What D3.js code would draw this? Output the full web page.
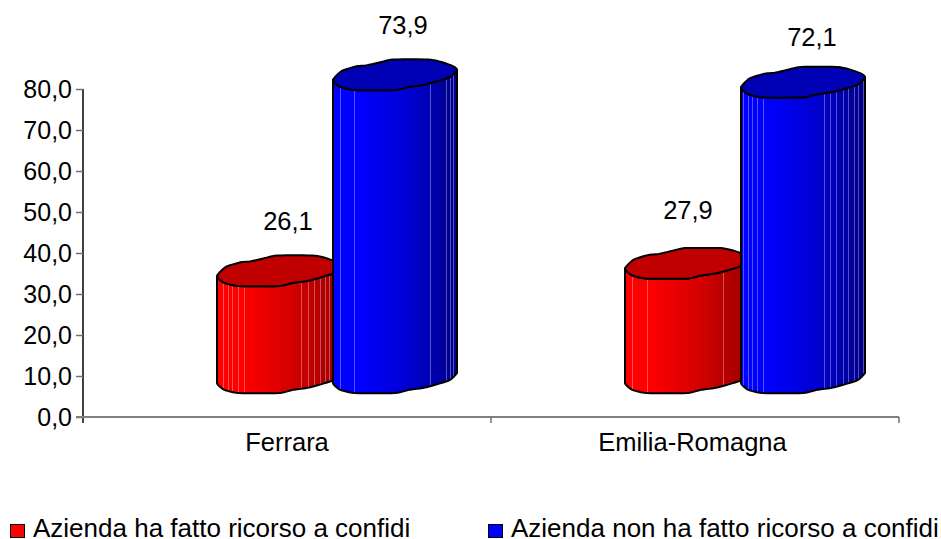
<!DOCTYPE html>
<html>
<head>
<meta charset="utf-8">
<script src="https://cdn.jsdelivr.net/npm/d3@7"></script>
<style>
  html, body { margin: 0; padding: 0; background: #fff; }
  svg { display: block; }
  text { font-family: "Liberation Sans", Arial, sans-serif; fill: #000; }
</style>
</head>
<body>
<svg id="chart" width="941" height="539"></svg>
<script>
const categories = ["Ferrara", "Emilia-Romagna"];
const seriesNames = ["Azienda ha fatto ricorso a confidi", "Azienda non ha fatto ricorso a confidi"];
const confidiYes = [26.1, 27.9];
const confidiNo = [73.9, 72.1];
const yTicks = [0, 10, 20, 30, 40, 50, 60, 70, 80];
const seriesValues = [confidiYes, confidiNo];

// Cross-section of the cylinders, in units of the rim radii, clockwise from the left tip.
const rimUpper = [[-1, .32], [-.86, -.26], [-.62, -.56], [-.46, -.62], [-.24, -.82], [-.03, -1], [.54, -1], [.75, -.84], [.94, -.56], [1, -.33]];
const rimLower = [[.89, .12], [.7, .38], [.48, .62], [.21, .78], [0, .97], [-.65, .97], [-.89, .75]];
const rim = rimUpper.concat(rimLower);
const rightTipIndex = rimUpper.length - 1;

// Light facet seams on each cylinder side, as a fraction of its width.
const seams = [
  [[.05, .09, .12, .17, .22, .68, .73, .78, .83, .87, .9], [.056, .17, .78, .91, .94, .97]],
  [[.06, .18, .79], [.02, .06, .09, .13, .18, .67, .72, .77, .82, .86, .91, .94, .98]]
];

// Hand placement of the value labels relative to their cylinder, [dx, dy].
const labelNudge = [
  [[9, -41], [8, -41]],
  [[1, -45], [9, -36]]
];

const palette = [
  { side: ["#ff0000", "#ff0000", "#d40000", "#9c0000"], top: "#c00000", key: "#ff0000" },
  { side: ["#0000ff", "#0000ff", "#0000d4", "#000088"], top: "#0000b4", key: "#0000ff" }
];

const plot = { left: 83, right: 899, top: 89, bottom: 417 };
const radius = { x: 62, y: 15.5 };
const floorLift = 39, floorShift = 50, cylinderStep = 116;
const tickFont = 25, labelFont = 25.5, legendFont = 26;

const svg = d3.select("#chart");
const y = d3.scaleLinear().domain([0, 80]).range([plot.bottom, plot.top]);
const x0 = d3.scaleBand().domain(categories).range([plot.left, plot.right]);
const x1 = d3.scaleBand().domain(d3.range(seriesNames.length))
  .range([-cylinderStep, cylinderStep]);

const defs = svg.append("defs");
palette.forEach((p, s) => {
  const g = defs.append("linearGradient").attr("id", "side" + s)
    .attr("x1", 0).attr("x2", 1).attr("y1", 0).attr("y2", 0);
  [0, .2, .6, 1].forEach((o, i) => g.append("stop").attr("offset", o).attr("stop-color", p.side[i]));
});

// Value axis
const yAxis = svg.append("g").attr("transform", `translate(${plot.left},0)`)
  .call(d3.axisLeft(y).tickValues(yTicks).tickSize(7).tickPadding(4)
    .tickFormat(d => d3.format(".1f")(d).replace(".", ",")));
yAxis.select(".domain").attr("stroke", "#000").attr("stroke-width", 1.5)
  .attr("d", `M0,${plot.top}V${plot.bottom + 6}`);
yAxis.selectAll(".tick line").attr("stroke", "#707070").attr("stroke-width", 1.5);
yAxis.selectAll("text").style("font-size", tickFont + "px").attr("font-family", null);

// Category axis
const xAxis = svg.append("g").attr("transform", `translate(0,${plot.bottom})`)
  .call(d3.axisBottom(x0).tickSize(0).tickPadding(16));
xAxis.select(".domain").attr("stroke", "#808080").attr("stroke-width", 2)
  .attr("d", `M${plot.left - 7},0H${plot.right}`);
xAxis.selectAll("text").style("font-size", labelFont + "px").attr("font-family", null)
  .attr("dx", (d, i) => i ? -2.5 : 0);
const boundaries = categories.map(c => x0(c)).concat(plot.right);
xAxis.selectAll(".boundary").data(boundaries.slice(1)).join("line").attr("class", "boundary")
  .attr("x1", d => d).attr("x2", d => d).attr("y1", 0).attr("y2", 6)
  .attr("stroke", "#707070").attr("stroke-width", 1.5);

// Softens the corners of the closed cross-section with cardinal segments;
// each input point yields `steps` samples.
const steps = 6, tangent = .28;
function smoothClosed(pts) {
  const out = [], n = pts.length;
  for (let i = 0; i < n; i++) {
    const p0 = pts[(i - 1 + n) % n], p1 = pts[i], p2 = pts[(i + 1) % n], p3 = pts[(i + 2) % n];
    for (let k = 0; k < steps; k++) {
      const t = k / steps, t2 = t * t, t3 = t2 * t;
      out.push([0, 1].map(a =>
        (2 * t3 - 3 * t2 + 1) * p1[a] + (t3 - 2 * t2 + t) * tangent * (p2[a] - p0[a]) +
        (-2 * t3 + 3 * t2) * p2[a] + (t3 - t2) * tangent * (p3[a] - p1[a])));
    }
  }
  return out;
}
const rimSmooth = smoothClosed(rim);
const lowerEdge = rimSmooth.slice(rightTipIndex * steps).concat([rimSmooth[0]]); // right tip round to left tip

const place = (cx, cy, pts) => pts.map(([u, v]) => [cx + u * radius.x, cy + v * radius.y]);
const linePath = d3.line();

// Cylinders, one group per category, drawn left to right so the blue one overlaps the red.
categories.forEach((cat, c) => {
  const mid = x0(cat) + x0.bandwidth() / 2 + floorShift;
  seriesValues.forEach((values, s) => {
    const cx = mid + x1(s) + x1.bandwidth() / 2;
    const topY = y(values[c]) - floorLift;
    const baseY = y(0) - floorLift;
    const g = svg.append("g").attr("class", "cylinder");

    const front = place(cx, topY, [...lowerEdge].reverse()).concat(place(cx, baseY, lowerEdge));
    const bodyPath = linePath(front) + "Z";

    const clipId = `body-${c}-${s}`;
    defs.append("clipPath").attr("id", clipId).append("path").attr("d", bodyPath);

    g.append("path").attr("d", bodyPath).attr("fill", `url(#side${s})`);
    g.append("g").attr("clip-path", `url(#${clipId})`)
      .selectAll("line").data(seams[c][s]).join("line")
      .attr("x1", f => Math.round(cx - radius.x + f * 2 * radius.x) + .5)
      .attr("x2", f => Math.round(cx - radius.x + f * 2 * radius.x) + .5)
      .attr("y1", topY - radius.y).attr("y2", baseY + radius.y)
      .attr("stroke", "#fff").attr("stroke-opacity", .32).attr("stroke-width", 1);
    g.append("path").attr("d", bodyPath)
      .attr("fill", "none").attr("stroke", "#000").attr("stroke-width", 2).attr("stroke-linejoin", "round");
    g.append("path").attr("d", linePath(place(cx, topY, rimSmooth)) + "Z")
      .attr("fill", palette[s].top).attr("stroke", "#000").attr("stroke-width", 2).attr("stroke-linejoin", "round");

    g.append("text")
      .attr("x", cx + labelNudge[c][s][0]).attr("y", topY + labelNudge[c][s][1])
      .attr("text-anchor", "middle").style("font-size", labelFont + "px")
      .text(d3.format(".1f")(values[c]).replace(".", ","));
  });
});

// Legend along the bottom edge
const legendX = [10, 488];
const legend = svg.selectAll(".key").data(seriesNames).join("g").attr("class", "key")
  .attr("transform", (d, i) => `translate(${legendX[i]},0)`);
legend.append("rect").attr("x", .5).attr("y", 524.5).attr("width", 14).attr("height", 13)
  .attr("fill", (d, i) => palette[i].key).attr("stroke", "#000").attr("stroke-width", 1);
legend.append("text").attr("x", 23).attr("y", 537).style("font-size", legendFont + "px").text(d => d);
</script>
</body>
</html>
